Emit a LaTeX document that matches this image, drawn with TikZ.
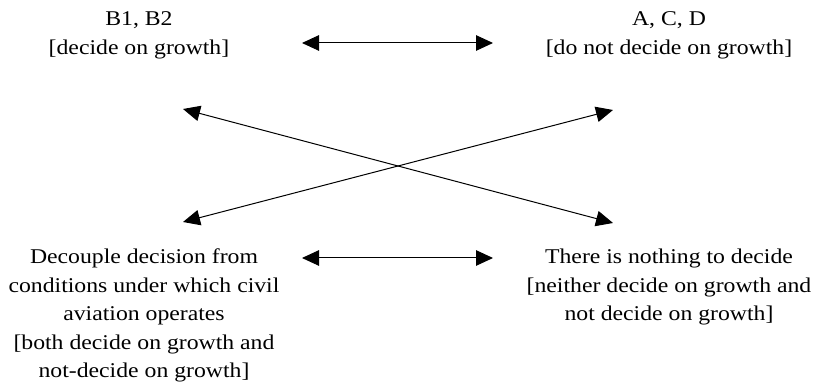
\documentclass[tikz,border=0pt]{standalone}
\usepackage{fontspec}
\setmainfont{Liberation Serif}[FakeStretch=1.13]
\usetikzlibrary{arrows.meta}
\begin{document}
\begin{tikzpicture}[x=0.6pt,y=-0.6pt,
  lbl/.style={align=center,inner sep=0pt,anchor=base,font=\fontsize{12.6}{17.1}\selectfont},
  link/.style={line width=0.6pt,{Triangle[length=10.2pt,width=9.3pt]}-{Triangle[length=10.2pt,width=9.3pt]}}]
\useasboundingbox (0,0) rectangle (813,387);
% the four positions (placed at the baseline of the last line)
\node[lbl] (decide) at (139,54.5) {B1, B2\\{[}decide on growth]};
\node[lbl] (notdecide) at (669,54.5) {A, C, D\\{[}do not decide on growth]};
\node[lbl] (decouple) at (144,378) {Decouple decision from\\conditions under which civil\\aviation operates\\{[}both decide on growth and\\not-decide on growth]};
\node[lbl] (nothing) at (669,321) {There is nothing to decide\\{[}neither decide on growth and\\not decide on growth]};
% arrow ends
\coordinate (topL) at (302,43);
\coordinate (topR) at (493,43);
\coordinate (botL) at (302,258);
\coordinate (botR) at (493,258);
\coordinate (crossUL) at (183,109);
\coordinate (crossUR) at (613,110);
\coordinate (crossLL) at (183,222);
\coordinate (crossLR) at (613,223);
\draw[link] (topL) -- (topR);
\draw[link] (botL) -- (botR);
\draw[link] (crossUL) -- (crossLR);
\draw[link] (crossLL) -- (crossUR);
\end{tikzpicture}
\end{document}
